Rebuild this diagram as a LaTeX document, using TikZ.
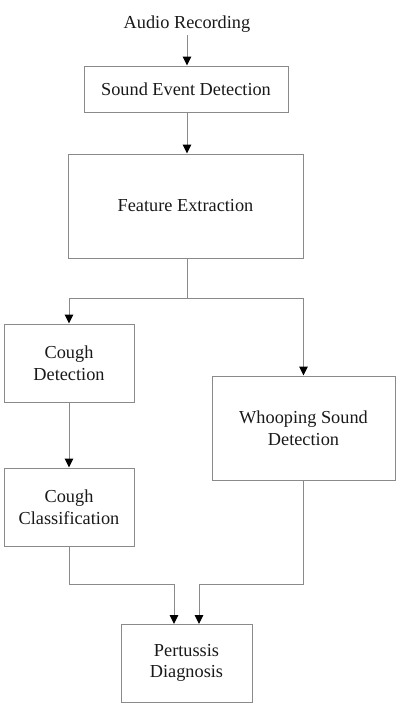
\documentclass[tikz,border=0pt]{standalone}
\usepackage{fontspec}
\setmainfont{Liberation Serif}
\usetikzlibrary{arrows.meta}
\definecolor{linegray}{HTML}{8A8A8A}
\begin{document}
\begin{tikzpicture}[x=1pt,y=-1pt,
  box/.style={draw=linegray,line width=1pt,inner sep=0pt,align=center,font=\fontsize{18.3}{21.8}\selectfont,text=black!90},
  conn/.style={draw=linegray,line width=1pt},
  arr/.style={conn,-{Triangle[width=8.5pt,length=9pt,color=black]}}]
\useasboundingbox (0,0) rectangle (402,712);
\node[font=\fontsize{18.3}{21.8}\selectfont,text=black!90,inner sep=0pt] (audio) at (187,24) {Audio Recording};
\node[box,minimum width=204pt,minimum height=46pt] (sed) at (186,89) {Sound Event Detection};
\node[box,minimum width=235pt,minimum height=104pt] (fe) at (185.5,206) {Feature Extraction};
\node[box,minimum width=130pt,minimum height=78pt] (cd) at (69,363) {Cough\\Detection};
\node[box,minimum width=130pt,minimum height=78pt] (cc) at (69,507) {Cough\\Classification};
\node[box,minimum width=183pt,minimum height=104pt] (wsd) at (303.5,428) {Whooping Sound\\Detection};
\node[box,minimum width=131pt,minimum height=78pt] (pd) at (186.5,663) {Pertussis\\Diagnosis};
\coordinate (split) at (187,298);
\coordinate (joinL) at (69,584);
\coordinate (joinR) at (303.5,584);
\coordinate (inL) at (174,624);
\coordinate (inR) at (199,624);
\draw[arr] (187,35) -- (sed.north -| 187,0);
\draw[arr] (sed.south -| 187,0) -- (fe.north -| 187,0);
\draw[conn] (fe.south -| split) -- (split);
\draw[arr] (split) -| (cd.north);
\draw[arr] (split) -| (wsd.north);
\draw[arr] (cd.south) -- (cc.north);
\draw[arr] (cc.south) -- (joinL) -| (inL);
\draw[arr] (wsd.south) -- (joinR) -| (inR);
\end{tikzpicture}
\end{document}
